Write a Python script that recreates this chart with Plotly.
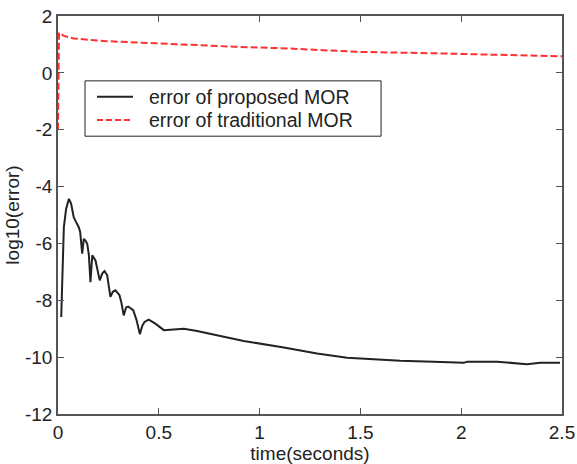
import plotly.graph_objects as go

# proposed MOR error (black solid)
t_prop = [0.016, 0.024, 0.029, 0.040, 0.054, 0.065, 0.078, 0.090, 0.103, 0.110, 0.120, 0.128,
          0.136, 0.145, 0.153, 0.161, 0.170, 0.186, 0.196, 0.207, 0.220, 0.231, 0.244, 0.260,
          0.272, 0.285, 0.305, 0.315, 0.326, 0.338, 0.348, 0.373, 0.390, 0.406, 0.418, 0.429,
          0.450, 0.483, 0.525, 0.574, 0.624, 0.690, 0.806, 0.921, 1.12, 1.285, 1.434, 1.566,
          1.698, 1.863, 2.012, 2.029, 2.178, 2.326, 2.392, 2.49]
e_prop = [-8.59, -7.05, -5.43, -4.80, -4.43, -4.60, -5.08, -5.25, -5.43, -5.60, -6.36, -5.84,
          -5.90, -6.01, -6.40, -7.36, -6.42, -6.60, -6.90, -7.30, -7.05, -6.97, -7.12, -7.88,
          -7.70, -7.65, -7.82, -8.10, -8.53, -8.25, -8.22, -8.35, -8.70, -9.19, -8.90, -8.76,
          -8.68, -8.82, -9.05, -9.03, -9.00, -9.08, -9.26, -9.43, -9.66, -9.87, -10.02, -10.07,
          -10.13, -10.16, -10.20, -10.16, -10.16, -10.25, -10.20, -10.20]

# traditional MOR error (red dashed)
t_trad = [0.0, 0.005, 0.03, 0.078, 0.227, 0.459, 0.707, 0.872, 1.136, 1.483, 1.863, 2.078, 2.309, 2.5]
e_trad = [-2.0, 1.41, 1.30, 1.21, 1.12, 1.04, 0.98, 0.92, 0.86, 0.74, 0.69, 0.65, 0.60, 0.58]

series_names = ["error of proposed MOR", "error of traditional MOR"]
series_colors = ["#222222", "#ff3030"]
series_dash = ["solid", "7px,3px"]

x_ticks = [0, 0.5, 1, 1.5, 2, 2.5]
x_labels = ["0", "0.5", "1", "1.5", "2", "2.5"]
y_ticks = [-12, -10, -8, -6, -4, -2, 0, 2]
y_labels = ["-12", "-10", "-8", "-6", "-4", "-2", "0", "2"]

font_family = "Liberation Sans, Arial, sans-serif"
fs = 19

fig = go.Figure()
for xs, ys, nm, col, ds in zip([t_prop, t_trad], [e_prop, e_trad], series_names, series_colors, series_dash):
    fig.add_trace(go.Scatter(x=xs, y=ys, mode="lines", name=nm, showlegend=False,
                             line=dict(color=col, width=2, dash=ds)))

# legend drawn as a boxed key (MATLAB style)
box = dict(x0=0.0536, x1=0.641, y0=0.698, y1=0.837)
fig.add_shape(type="rect", xref="paper", yref="paper", **box,
              line=dict(color="#222222", width=1), fillcolor="white", layer="above")
key_y = [0.797, 0.739]
for ky, nm, col, ds in zip(key_y, series_names, series_colors, series_dash):
    fig.add_shape(type="line", xref="paper", yref="paper", x0=0.0774, x1=0.1488, y0=ky, y1=ky,
                  line=dict(color=col, width=2, dash=ds if ds == "solid" else "6px,3px"), layer="above")
    fig.add_annotation(xref="paper", yref="paper", x=0.1766, y=ky, text=nm, showarrow=False,
                       xanchor="left", yanchor="middle",
                       font=dict(size=fs + 0.5, color="#222222", family=font_family))

axis_common = dict(showgrid=False, zeroline=False, showline=True, linecolor="#555555",
                   linewidth=1.5, mirror="ticks", ticks="inside", ticklen=6, tickcolor="#555555",
                   automargin=False,
                   tickfont=dict(size=fs, color="#222222", family=font_family))

fig.update_layout(
    width=577, height=464,
    margin=dict(l=58, r=15, t=16, b=50),
    paper_bgcolor="white", plot_bgcolor="white",
    font=dict(family=font_family, size=fs, color="#222222"),
    xaxis=dict(range=[0, 2.5], tickvals=x_ticks, ticktext=x_labels,
               title=dict(text="time(seconds)", standoff=0, font=dict(size=fs)), **axis_common),
    yaxis=dict(range=[-12, 2], tickvals=y_ticks, ticktext=y_labels,
               title=dict(text="log10(error)", standoff=0, font=dict(size=fs)), **axis_common),
    showlegend=False,
)

fig.write_html("out.html", config={"displayModeBar": False},
               post_script="document.body.style.margin='0';document.body.style.padding='0';")
